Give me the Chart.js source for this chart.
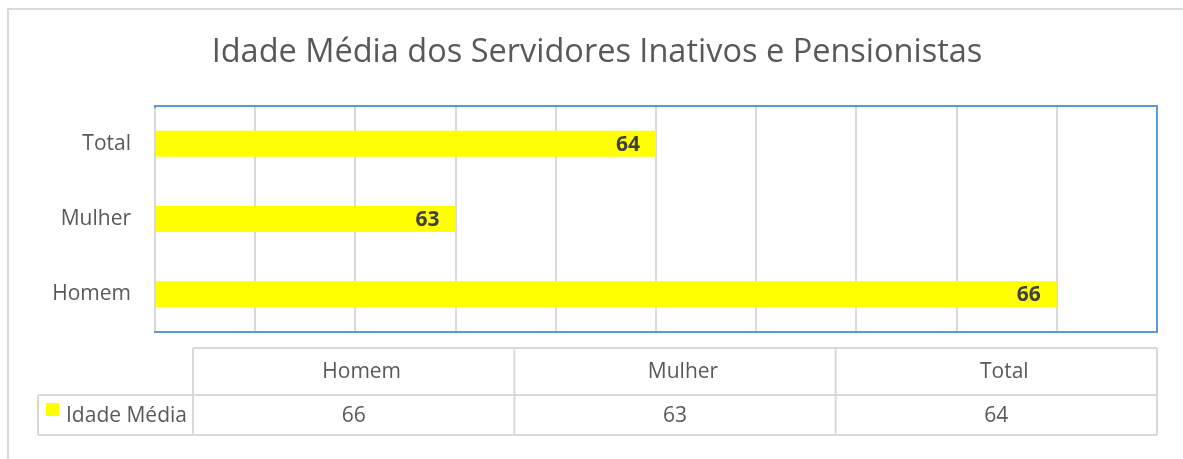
<!DOCTYPE html>
<html>
<head>
<meta charset="utf-8">
<script src="https://cdn.jsdelivr.net/npm/chart.js@4/dist/chart.umd.min.js"></script>
<style>
  html, body { margin: 0; padding: 0; background: #fff; }
  #wrap { position: relative; width: 1183px; height: 459px; }
</style>
</head>
<body>
<div id="wrap"><canvas id="grafico"></canvas></div>
<script>
// dados do gráfico
const categorias = ['Homem', 'Mulher', 'Total'];
const idadeMedia = [66, 63, 64];
const nomeSerie = 'Idade Média';
const titulo = 'Idade Média dos Servidores Inativos e Pensionistas';

const fonte = '"Open Sans", "DejaVu Sans", sans-serif';
const cinzaTexto = '#595959';
const cinzaLinha = '#d9d9d9';

// moldura, rótulos das barras e tabela de dados
const extras = {
  id: 'extras',
  beforeDraw(chart) {
    const ctx = chart.ctx;
    ctx.save();
    ctx.fillStyle = '#fff';
    ctx.fillRect(0, 0, chart.width, chart.height);
    // moldura externa (cortada à direita e embaixo)
    ctx.strokeStyle = cinzaLinha;
    ctx.lineWidth = 2;
    ctx.beginPath();
    ctx.moveTo(8, chart.height);
    ctx.lineTo(8, 9);
    ctx.lineTo(chart.width, 9);
    ctx.stroke();
    ctx.restore();
  },
  afterDraw(chart) {
    const ctx = chart.ctx;
    const a = chart.chartArea;
    ctx.save();
    // borda azul da área de plotagem
    ctx.strokeStyle = '#5b9bd5';
    ctx.lineWidth = 2;
    ctx.strokeRect(a.left, a.top, a.right - a.left, a.bottom - a.top);
    ctx.strokeStyle = cinzaLinha;
    ctx.beginPath();
    ctx.moveTo(a.left, a.top + 2);
    ctx.lineTo(a.left, a.bottom - 1);
    ctx.stroke();

    // rótulos de dados
    const meta = chart.getDatasetMeta(0);
    ctx.font = 'bold 21px ' + fonte;
    ctx.fillStyle = '#404040';
    ctx.textAlign = 'right';
    ctx.textBaseline = 'middle';
    meta.data.forEach((bar, i) => {
      ctx.fillText(String(idadeMedia[i]), bar.x - 16, bar.y + 1);
    });

    // tabela de dados
    const x0 = 193, x1 = 1157, legX = 38;
    const yTop = 348, yMid = 395, yBot = 435;
    const colW = (x1 - x0) / categorias.length;
    ctx.strokeStyle = cinzaLinha;
    ctx.lineWidth = 2;
    ctx.beginPath();
    ctx.moveTo(x0, yTop); ctx.lineTo(x1, yTop);
    ctx.moveTo(legX, yMid); ctx.lineTo(x1, yMid);
    ctx.moveTo(legX, yBot); ctx.lineTo(x1, yBot);
    ctx.moveTo(legX, yMid); ctx.lineTo(legX, yBot);
    for (let i = 0; i <= categorias.length; i++) {
      const x = x0 + colW * i;
      ctx.moveTo(x, yTop); ctx.lineTo(x, yBot);
    }
    ctx.stroke();

    ctx.font = '21px ' + fonte;
    ctx.fillStyle = cinzaTexto;
    ctx.textAlign = 'center';
    categorias.forEach((c, i) => {
      const cx = x0 + colW * (i + 0.5);
      ctx.fillText(c, cx + 8, (yTop + yMid) / 2 + 1);
      ctx.fillText(String(idadeMedia[i]), cx, (yMid + yBot) / 2 + 1);
    });
    // legenda
    ctx.fillStyle = '#ffff00';
    ctx.fillRect(46, 403, 13, 13);
    ctx.fillStyle = cinzaTexto;
    ctx.textAlign = 'left';
    ctx.fillText(nomeSerie, 66, (yMid + yBot) / 2 + 1);
    ctx.restore();
  }
};

new Chart(document.getElementById('grafico'), {
  type: 'bar',
  data: {
    labels: categorias,
    datasets: [{
      label: nomeSerie,
      data: idadeMedia,
      backgroundColor: '#ffff00',
      borderWidth: 0,
      categoryPercentage: 1,
      barPercentage: 0.345
    }]
  },
  options: {
    indexAxis: 'y',
    responsive: true,
    maintainAspectRatio: false,
    animation: false,
    layout: { padding: { top: 0, right: 26, bottom: 127, left: 37 } },
    plugins: {
      legend: { display: false },
      tooltip: { enabled: false },
      title: {
        display: true,
        text: titulo,
        color: cinzaTexto,
        font: { family: fonte, size: 32.5, weight: 'normal', lineHeight: 1.2 },
        padding: { top: 33.5, bottom: 33.5 }
      }
    },
    scales: {
      x: {
        min: 61.5,
        max: 66.5,
        ticks: { display: false, stepSize: 0.5 },
        grid: { color: cinzaLinha, lineWidth: 2, drawTicks: false },
        border: { display: false },
        afterFit: s => { s.height = 0; }
      },
      y: {
        reverse: true,
        ticks: { color: cinzaTexto, font: { family: fonte, size: 21 }, padding: 24 },
        grid: { display: false, drawTicks: false },
        border: { display: false },
        afterFit: s => { s.width = 118; }
      }
    }
  },
  plugins: [extras]
});
</script>
</body>
</html>
